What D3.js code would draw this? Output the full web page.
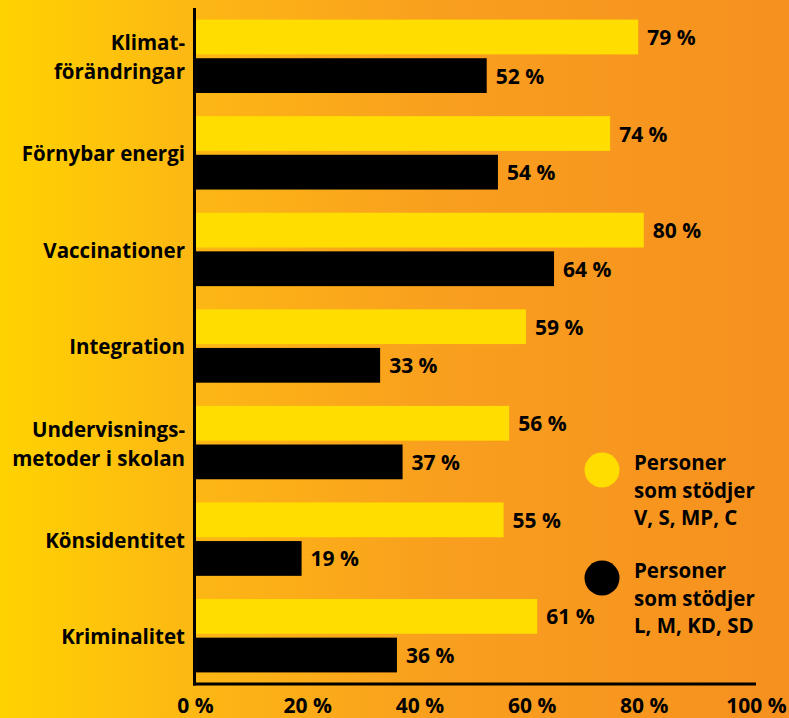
<!DOCTYPE html>
<html>
<head>
<meta charset="utf-8">
<script src="https://cdn.jsdelivr.net/npm/d3@7"></script>
<style>
  html, body { margin: 0; padding: 0; }
  body { width: 789px; height: 718px; overflow: hidden; }
  svg text { font-family: "Open Sans", "DejaVu Sans", sans-serif; font-weight: 700; fill: #000; }
</style>
</head>
<body>
<div id="graph"></div>
<script>
(function(){
"use strict";

// data
var categories = ["Klimat-\nförändringar", "Förnybar energi", "Vaccinationer", "Integration",
                  "Undervisnings-\nmetoder i skolan", "Könsidentitet", "Kriminalitet"];
var redGreen = [79, 74, 80, 59, 56, 55, 61];   // V, S, MP, C
var blueRight = [52, 54, 64, 33, 37, 19, 36];  // L, M, KD, SD
var tickValues = [0, 20, 40, 60, 80, 100];
var seriesNames = ["Personer\nsom stödjer\nV, S, MP, C", "Personer\nsom stödjer\nL, M, KD, SD"];
var seriesColors = ["#FFDD00", "#000000"];

var width = 789;
var height = 718;

var svg = d3.select("#graph")
  .append("svg")
    .attr("width", width)
    .attr("height", height);

// background gradient
var grad = svg.append("defs").append("linearGradient")
    .attr("id", "bg")
    .attr("x1", "0%").attr("x2", "100%").attr("y1", "0%").attr("y2", "0%");
grad.append("stop").attr("offset", "0%").attr("stop-color", "#FFD200");
grad.append("stop").attr("offset", "24%").attr("stop-color", "#FDB814");
grad.append("stop").attr("offset", "55%").attr("stop-color", "#F99F1E");
grad.append("stop").attr("offset", "100%").attr("stop-color", "#F6901F");

svg.append("rect")
  .attr("width", width)
  .attr("height", height)
  .attr("fill", "url(#bg)");

var x = d3.scaleLinear()
  .domain([0, 100])
  .range([195, 756]);

var y = d3.scaleBand()
  .domain(categories)
  .range([8, 684])
  .paddingInner(0.24)
  .paddingOuter(0.12);

var y1 = d3.scaleBand()
  .domain([0, 1])
  .range([0, y.bandwidth()])
  .paddingInner(0.1);

var rows = categories.map(function(c, i){
  return {name: c, values: [redGreen[i], blueRight[i]]};
});

var groups = svg.selectAll("g.group")
  .data(rows)
  .enter()
  .append("g")
    .attr("class", "group")
    .attr("transform", function(d){ return "translate(0," + y(d.name) + ")"; });

groups.selectAll("rect")
  .data(function(d){ return d.values; })
  .enter()
  .append("rect")
    .attr("x", x(0))
    .attr("y", function(d, i){ return y1(i); })
    .attr("width", function(d){ return x(d) - x(0); })
    .attr("height", y1.bandwidth())
    .attr("fill", function(d, i){ return seriesColors[i]; });

groups.selectAll("text.val")
  .data(function(d){ return d.values; })
  .enter()
  .append("text")
    .attr("class", "val")
    .attr("x", function(d){ return x(d) + 9; })
    .attr("y", function(d, i){ return y1(i) + y1.bandwidth() / 2 + 8; })
    .style("font-size", "21px")
    .text(function(d){ return d + " %"; });

// category labels
groups.append("text")
  .attr("text-anchor", "end")
  .attr("x", 185)
  .style("font-size", "20.5px")
  .each(function(d){
    var lines = d.name.split("\n");
    var t = d3.select(this);
    var start = y.bandwidth() / 2 + 8.5 - (lines.length - 1) * 29 / 2;
    lines.forEach(function(l, k){
      t.append("tspan").attr("x", 185).attr("y", start + k * 29).text(l);
    });
  });

// axes
var xAxis = d3.axisBottom(x)
  .tickValues(tickValues)
  .tickSize(0)
  .tickFormat(function(d){ return d + " %"; });

var ax = svg.append("g")
  .attr("transform", "translate(0,684)")
  .call(xAxis);
ax.select(".domain").remove();
ax.selectAll("text")
  .attr("y", 29)
  .attr("dy", null)
  .style("font-size", "21px")
  .style("font-family", "'Open Sans', sans-serif")
  .style("font-weight", 700);

svg.append("line")
  .attr("x1", 194.5).attr("x2", 194.5)
  .attr("y1", 8).attr("y2", 685.5)
  .attr("stroke", "#000").attr("stroke-width", 3);
svg.append("line")
  .attr("x1", 193).attr("x2", x(100))
  .attr("y1", 684).attr("y2", 684)
  .attr("stroke", "#000").attr("stroke-width", 3);

// legend
var legend = svg.selectAll("g.legend")
  .data(seriesNames)
  .enter()
  .append("g")
    .attr("class", "legend")
    .attr("transform", function(d, i){ return "translate(602," + (470 + i * 108) + ")"; });

legend.append("circle")
  .attr("r", 17.5)
  .attr("fill", function(d, i){ return seriesColors[i]; });

legend.append("text")
  .style("font-size", "20.5px")
  .each(function(d){
    var t = d3.select(this);
    d.split("\n").forEach(function(l, k){
      t.append("tspan").attr("x", 32).attr("y", k * 27.5).text(l);
    });
  });

})();
</script>
</body>
</html>
